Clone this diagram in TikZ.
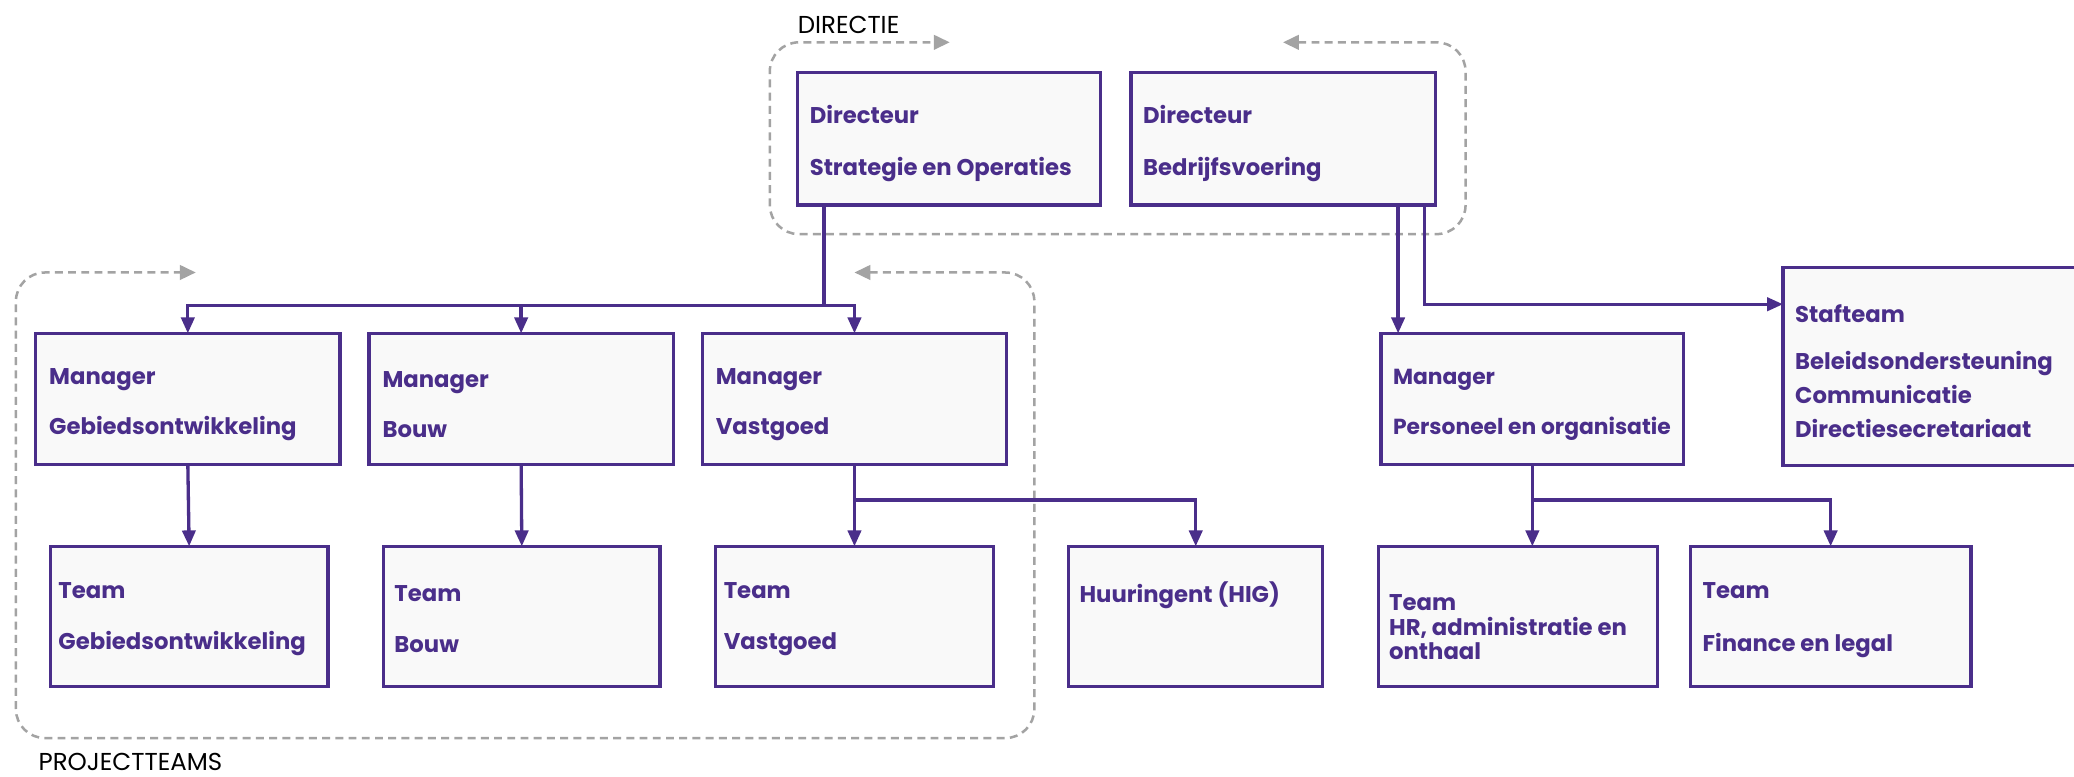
\documentclass[tikz,border=0pt]{standalone}
\usepackage{fontspec}
\setmainfont{Poppins}
\usetikzlibrary{arrows.meta}
\definecolor{pur}{HTML}{4A2E8A}
\definecolor{boxfill}{HTML}{F9F9F9}
\definecolor{gline}{HTML}{A3A3A3}
\newcommand\orgbox[5]{\node[obox, anchor=north west, minimum width={(#4-#2)*1pt}, minimum height={(#5-#3)*1pt}] (#1) at (#2,#3) {};}
\begin{document}
\begin{tikzpicture}[x=1pt,y=-1pt,
  obox/.style={draw=pur, fill=boxfill, line width=2.5pt, inner sep=0pt, outer sep=0pt},
  otext/.style={text=pur, font=\fontsize{17.2}{20}\selectfont\bfseries, align=left, inner sep=0pt, anchor=west},
  glabel/.style={text=black, font=\fontsize{18.5}{21}\selectfont, inner sep=0pt, anchor=west},
  conn/.style={draw=pur, line width=2.5pt},
  arr/.style={conn, -{Triangle[length=12pt,width=10pt]}},
  gdash/.style={draw=gline, line width=1.9pt, dash pattern=on 6pt off 4pt, rounded corners=22pt, {Triangle[length=12pt,width=11pt]}-{Triangle[length=12pt,width=11pt]}}
]
\useasboundingbox (0,0) rectangle (1568,587);
\fill[white] (0,0) rectangle (1568,587);

% groups
\draw[gdash] (970,32) -- (1108,32) -- (1108,177) -- (582,177) -- (582,32) -- (718,32);
\draw[gdash] (646,206) -- (782,206) -- (782,558) -- (12,558) -- (12,206) -- (148,206);
\node[glabel] (ldir) at (603,19) {DIRECTIE};
\node[glabel] (lpro) at (29,576) {PROJECTTEAMS};

% boxes
\orgbox{d1}{603}{55}{832}{155}
\orgbox{d2}{855}{55}{1085}{155}
\orgbox{mg}{27}{252}{257}{351}
\orgbox{mb}{279}{252}{509}{351}
\orgbox{mv}{531}{252}{761}{351}
\orgbox{mp}{1044}{252}{1273}{351}
\orgbox{st}{1348}{202}{1580}{352}
\orgbox{tg}{38}{413}{248}{519}
\orgbox{tb}{290}{413}{499}{519}
\orgbox{tv}{541}{413}{751}{519}
\orgbox{hu}{808}{413}{1000}{519}
\orgbox{thr}{1042}{413}{1253}{519}
\orgbox{tf}{1278}{413}{1490}{519}

% texts
\node[otext] (d1t) at (612,108.5) {Directeur\\[19pt]Strategie en Operaties};
\node[otext] (d2t) at (864,108.5) {Directeur\\[19pt]Bedrijfsvoering};
\node[otext] (mgt) at (37,306) {Manager\\[18pt]Gebiedsontwikkeling};
\node[otext] (mbt) at (289,306) {Manager\\[18pt]Bouw};
\node[otext] (mvt) at (541,306) {Manager\\[18pt]Vastgoed};
\node[otext, font=\fontsize{16.5}{20}\selectfont\bfseries] (mpt) at (1053,306) {Manager\\[18pt]Personeel en organisatie};
\node[otext] (stt) at (1357,280.5) {Stafteam\\[16pt]Beleidsondersteuning\\[5pt]Communicatie\\[6pt]Directiesecretariaat};
\node[otext] (tgt) at (44,468) {Team\\[18pt]Gebiedsontwikkeling};
\node[otext] (tbt) at (298,468) {Team\\[18pt]Bouw};
\node[otext] (tvt) at (547,468) {Team\\[18pt]Vastgoed};
\node[otext] (hut) at (816,450) {Huuringent (HIG)};
\node[otext] (thrt) at (1050,474) {Team\\[-1pt]HR, administratie en\\[-2pt]onthaal};
\node[otext] (tft) at (1287,469) {Team\\[20pt]Finance en legal};

% connectors
\coordinate (j1) at ([xshift=20pt,yshift=-76pt]d1.south west);
\draw[conn] (d1.south west -| j1) -- (j1);
\draw[arr] (j1) -| (mg.north);
\draw[arr] (j1) -| (mv.north);
\draw[arr] (mb.north |- j1) -- (mb.north);
\draw[arr] ([xshift=-28pt]d2.south east) -- ([xshift=-28pt]d2.south east |- mp.north);
\draw[arr] ([xshift=-8pt]d2.south east) |- ([yshift=-28pt]st.north west);
\draw[arr] (mg.south) -- (tg.north);
\draw[arr] (mb.south) -- (tb.north);
\draw[arr] (mv.south) -- (tv.north);
\draw[arr] ([yshift=-27pt]mv.south) -| (hu.north);
\draw[arr] (mp.south) -- (mp.south |- thr.north);
\draw[arr] ([yshift=-27pt]mp.south) -| (tf.north);
\end{tikzpicture}
\end{document}
